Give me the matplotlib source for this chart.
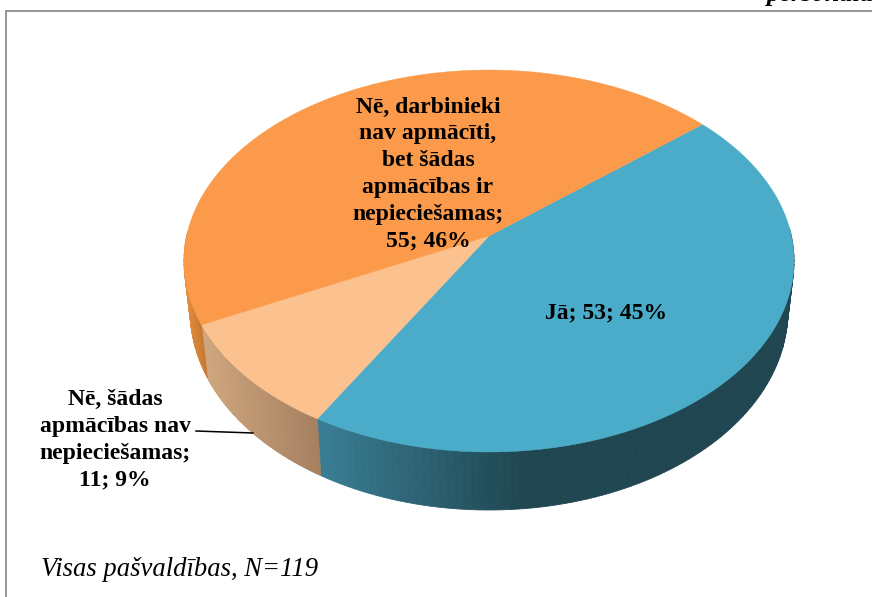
import numpy as np
import matplotlib
matplotlib.use("Agg")
import matplotlib.pyplot as plt
from matplotlib.colors import to_rgb

categories = ["Jā", "Nē, šādas apmācības nav nepieciešamas", "Nē, darbinieki nav apmācīti, bet šādas apmācības ir nepieciešamas"]
values = [53, 11, 55]
percents = [45, 9, 46]
top_colors = ["#4aacc8", "#fbc18e", "#fb9a4a"]
side_left = ["#3a7f96", "#cfa77f", "#e08b3d"]
side_right = ["#1f4651", "#a67f60", "#c97a30"]
note = "Visas pašvaldības, N=119"
title_cut = "personāla"

cx, cy = 489, 236
a, b, k = 187.7, 302.4, 0.131
start = 40.1


def project(ang):
    u, v = np.cos(np.radians(ang)), np.sin(np.radians(ang))
    w = 1 + k * v
    return cx + b * u / w, cy - a * v / w


def project_low(ang):
    # lower rim, a bit narrower and deeper towards the viewer
    x, y = project(ang)
    return cx + 0.98 * (x - cx), y + 48.5 - 9.5 * np.sin(np.radians(ang))


def blend(c1, c2, t):
    c1, c2 = np.array(to_rgb(c1)), np.array(to_rgb(c2))
    return c1 + (c2 - c1) * min(max(t, 0), 1)


fig = plt.figure(figsize=(8.72, 5.97), dpi=100)
ax = fig.add_axes([0, 0, 1, 1])
ax.set_xlim(0, 872)
ax.set_ylim(597, 0)
ax.axis("off")

# frame
ax.plot([872, 6, 6], [11, 11, 597], color="#8f8f8f", lw=1.3, solid_joinstyle="miter")

total = sum(values)
edges = start - np.cumsum([0] + values) * 360 / total

for i in range(3):
    angs = np.linspace(edges[i], edges[i + 1], 120)
    angs = angs[np.sin(np.radians(angs)) < 0.05]
    xs = project(angs)[0]
    xmin, xmax = xs.min(), xs.max()
    if i == 0:
        xmax = xmin + 210
    for a0, a1 in zip(angs[:-1], angs[1:]):
        x0, y0 = project(a0)
        x1, y1 = project(a1)
        x2, y2 = project_low(a1)
        x3, y3 = project_low(a0)
        col = blend(side_left[i], side_right[i], (x0 - xmin) / (xmax - xmin))
        ax.fill([x0, x1, x2, x3], [y0, y1, y2, y3], color=col, lw=0.6, zorder=2)

for i in range(3):
    angs = np.linspace(edges[i], edges[i + 1], 200)
    xs, ys = project(angs)
    ax.fill(np.r_[cx, xs], np.r_[cy, ys], color=top_colors[i], lw=0.3, zorder=3)

bold = dict(family="Liberation Serif", weight="bold", fontsize=17, ha="center", va="center",
            linespacing=1.36, color="black", zorder=5)

ax.text(606, 313, f"{categories[0]}; {values[0]}; {percents[0]}%", **bold)
ax.text(428, 174, "Nē, darbinieki\nnav apmācīti,\nbet šādas\napmācības ir\nnepieciešamas;\n"
        + f"{values[2]}; {percents[2]}%", **bold)
ax.text(115, 440, "Nē, šādas\napmācības nav\nnepieciešamas;\n" + f"{values[1]}; {percents[1]}%", **bold)
ax.plot([196, 253], [431, 433], color="black", lw=1.1, zorder=5)

ax.text(41, 576, note, family="Liberation Serif", style="italic", fontsize=19.2, ha="left", va="baseline")
ax.text(767, 0.5, title_cut, family="Liberation Serif", style="italic", weight="bold", fontsize=19,
        ha="left", va="baseline")

fig.savefig("out.png", dpi=100)
